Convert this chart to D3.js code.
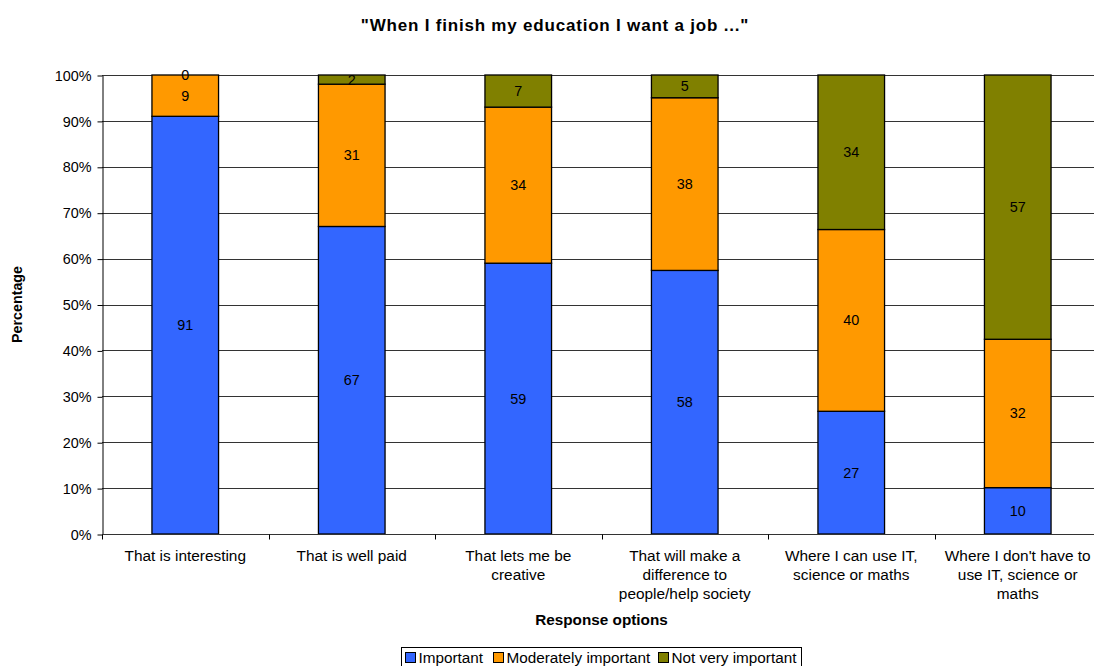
<!DOCTYPE html>
<html>
<head>
<meta charset="utf-8">
<script src="https://cdn.jsdelivr.net/npm/d3@7"></script>
<style>
  html, body { margin: 0; padding: 0; background: #fff; }
  svg { display: block; font-family: "Liberation Sans", Arial, sans-serif; }
</style>
</head>
<body>
<svg id="chart" width="1094" height="666"></svg>
<script>
// Response options (x categories), each label split into its wrapped lines
const categories = [
  ["That is interesting"],
  ["That is well paid"],
  ["That lets me be", "creative"],
  ["That will make a", "difference to", "people/help society"],
  ["Where I can use IT,", "science or maths"],
  ["Where I don't have to", "use IT, science or", "maths"]
];

// Series values, one per response option
const important           = [91, 67, 59, 58, 27, 10];
const moderatelyImportant = [ 9, 31, 34, 38, 40, 32];
const notVeryImportant    = [ 0,  2,  7,  5, 34, 57];

const seriesNames = ["Important", "Moderately important", "Not very important"];
const seriesColors = ["#3366FF", "#FF9900", "#808000"];
const yTicks = [0, 0.1, 0.2, 0.3, 0.4, 0.5, 0.6, 0.7, 0.8, 0.9, 1.0];

const title = "\"When I finish my education I want a job ...\"";
const xTitle = "Response options";
const yTitle = "Percentage";

// Rows for the stack layout
const rows = categories.map((c, i) => ({
  key: i,
  "Important": important[i],
  "Moderately important": moderatelyImportant[i],
  "Not very important": notVeryImportant[i]
}));

const svg = d3.select("#chart");
const margin = { left: 102, top: 75, right: -7, bottom: 132 };
const W = 1094, H = 666;
const plotW = W - margin.left - margin.right;
const plotH = H - margin.top - margin.bottom;

const x = d3.scaleBand().domain(rows.map(r => r.key)).range([margin.left, margin.left + plotW])
  .paddingInner(0.6).paddingOuter(0.3);
const xOuter = d3.scaleBand().domain(rows.map(r => r.key)).range([margin.left, margin.left + plotW]);
const y = d3.scaleLinear().domain([0, 1]).range([margin.top + plotH, margin.top]);

const stack = d3.stack().keys(seriesNames).offset(d3.stackOffsetExpand);
const stacked = stack(rows);

// Title
svg.append("text")
  .attr("x", 555).attr("y", 31)
  .attr("text-anchor", "middle")
  .attr("font-size", 17).attr("font-weight", "bold")
  .attr("letter-spacing", 0.8)
  .text(title);

// Horizontal gridlines
svg.append("g")
  .selectAll("line")
  .data(yTicks.slice(1))
  .join("line")
  .attr("x1", margin.left).attr("x2", margin.left + plotW)
  .attr("y1", d => Math.round(y(d)) + 0.5).attr("y2", d => Math.round(y(d)) + 0.5)
  .attr("stroke", "#333").attr("stroke-width", 1);

// Y axis
const yAxis = d3.axisLeft(y).tickValues(yTicks).tickFormat(d3.format(".0%")).tickSizeInner(5).tickSizeOuter(0).tickPadding(6);
const gy = svg.append("g").attr("transform", `translate(${margin.left + 0.5},0.5)`).call(yAxis);
gy.select(".domain").attr("stroke", "#000");
gy.selectAll(".tick line").attr("stroke", "#000");
gy.selectAll("text").attr("font-size", 14.4).attr("fill", "#000").attr("font-family", "Liberation Sans, Arial, sans-serif");

// Bars
const layers = svg.append("g").selectAll("g")
  .data(stacked)
  .join("g")
  .attr("fill", (d, i) => seriesColors[i]);

layers.selectAll("rect")
  .data(d => d)
  .join("rect")
  .attr("x", d => x(d.data.key))
  .attr("width", x.bandwidth())
  .attr("y", d => y(d[1]))
  .attr("height", d => y(d[0]) - y(d[1]))
  .attr("stroke", "#000").attr("stroke-width", 1.3);

// X axis line and category separator ticks
const baseY = Math.round(y(0)) + 0.5;
svg.append("line")
  .attr("x1", margin.left).attr("x2", margin.left + plotW)
  .attr("y1", baseY).attr("y2", baseY)
  .attr("stroke", "#333");
svg.append("g").selectAll("line")
  .data(rows.map(r => r.key).concat([rows.length]))
  .join("line")
  .attr("x1", d => Math.round(d < rows.length ? xOuter(d) : margin.left + plotW) + 0.5)
  .attr("x2", d => Math.round(d < rows.length ? xOuter(d) : margin.left + plotW) + 0.5)
  .attr("y1", baseY).attr("y2", baseY + 5)
  .attr("stroke", "#000");

// Data labels at segment centres
const series = [important, moderatelyImportant, notVeryImportant];
svg.append("g").selectAll("g")
  .data(stacked)
  .join("g")
  .selectAll("text")
  .data((d, si) => d.map((seg, ci) => ({ seg, v: series[si][ci] })))
  .join("text")
  .attr("x", d => x(d.seg.data.key) + x.bandwidth() / 2)
  .attr("y", d => (y(d.seg[0]) + y(d.seg[1])) / 2)
  .attr("dy", "0.35em")
  .attr("text-anchor", "middle")
  .attr("font-size", 14.4).attr("fill", "#000")
  .text(d => d.v);

// Category labels
svg.append("g").selectAll("text")
  .data(rows)
  .join("text")
  .attr("x", d => xOuter(d.key) + xOuter.bandwidth() / 2)
  .attr("y", 561)
  .attr("text-anchor", "middle")
  .attr("font-size", 15.4).attr("fill", "#000")
  .selectAll("tspan")
  .data(d => categories[d.key])
  .join("tspan")
  .attr("x", function () { return d3.select(this.parentNode).attr("x"); })
  .attr("dy", (d, i) => i === 0 ? 0 : 19)
  .text(d => d);

// Axis titles
svg.append("text")
  .attr("x", margin.left + plotW / 2).attr("y", 625)
  .attr("text-anchor", "middle")
  .attr("font-size", 15.3).attr("font-weight", "bold")
  .text(xTitle);

svg.append("text")
  .attr("transform", `translate(22,${(y(0) + y(1)) / 2}) rotate(-90)`)
  .attr("text-anchor", "middle")
  .attr("font-size", 14.3).attr("font-weight", "bold")
  .text(yTitle);

// Legend
const legend = svg.append("g");
legend.append("rect")
  .attr("x", 401.5).attr("y", 647.5).attr("width", 400).attr("height", 24)
  .attr("fill", "#fff").attr("stroke", "#000");
const legendX = [405, 493, 658];
const items = legend.selectAll("g.item")
  .data(seriesNames)
  .join("g")
  .attr("class", "item")
  .attr("transform", (d, i) => `translate(${legendX[i]},652)`);
items.append("rect")
  .attr("x", 0.5).attr("y", 0.5).attr("width", 10).attr("height", 10)
  .attr("fill", (d, i) => seriesColors[i]).attr("stroke", "#000");
items.append("text")
  .attr("x", 13.5).attr("y", 5.5).attr("dy", "0.35em")
  .attr("font-size", 15.3).attr("fill", "#000")
  .text(d => d);
</script>
</body>
</html>
